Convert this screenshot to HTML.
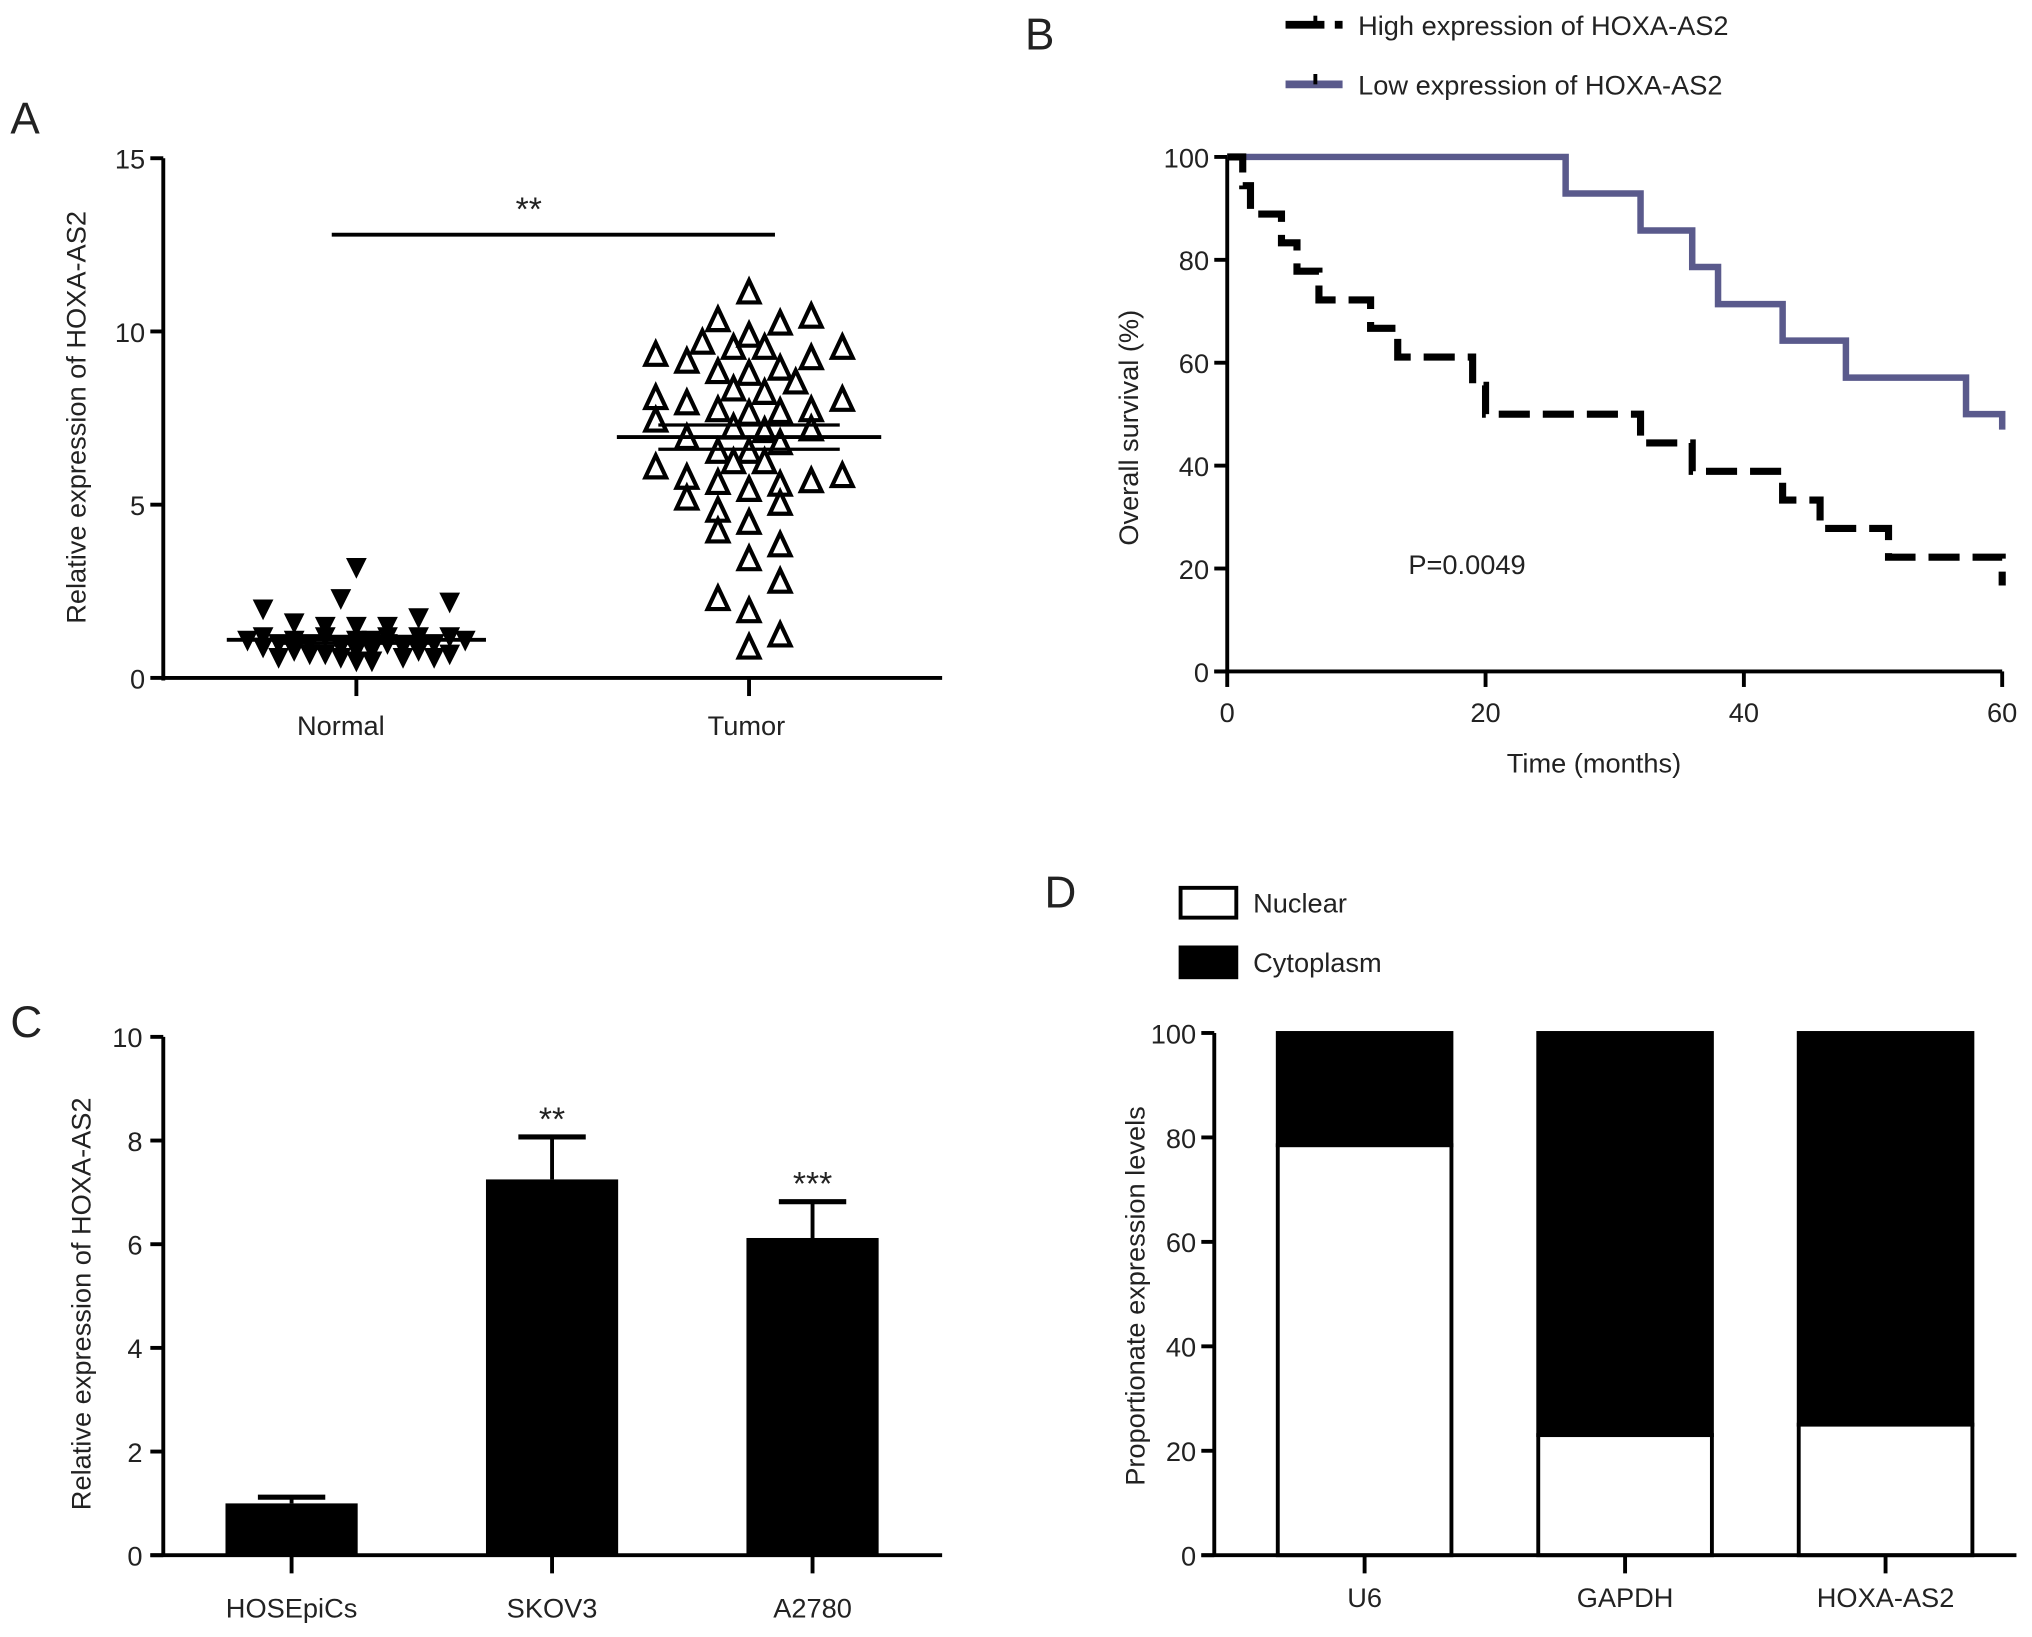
<!DOCTYPE html>
<html><head><meta charset="utf-8"><style>
html,body{margin:0;padding:0;background:#fff}
svg{display:block}
text{font-family:"Liberation Sans",Arial,sans-serif;fill:#222}
</style></head><body>
<svg id="fig" width="2032" height="1637" viewBox="0 0 1568 1263" xmlns="http://www.w3.org/2000/svg">
<g id="pA"></g>
<g id="pB"></g>
<g id="pC"></g>
<g id="pD"></g>
</svg>
<script>
// ---- Panel A data ----
const aGroups = ["Normal", "Tumor"];
const aYTicks = [0, 5, 10, 15];
const normalVals = [3.2,2.3,2.2,2.0,1.75,1.6,1.5,1.5,1.5,1.1,0.9,1.0,0.8,1.0,0.7,0.9,0.5,0.8,1.0,0.6,0.8,1.0,0.7,1.1,1.2,1.1,1.2,1.1,0.8,1.2,1.2,1.2,0.6,0.6,0.5,0.9,0.6,0.7,1.1];
const normalCol  = [0,-1,6,-6,4,-4,-2,0,2,-7,-6,-5,-4,-3,-2,-1,0,1,2,3,4,5,6,7,-6,-4,-2,0,0,2,4,6,-5,-1,1,3,5,-3,1];
const tumorVals = [11.1,10.3,10.2,10.4,9.65,9.5,9.85,9.5,9.3,9.1,9.2,9.5,8.8,8.75,8.9,8.5,8.3,8.2,8.05,7.9,8.0,7.7,7.6,7.65,7.7,7.4,7.15,7.2,7.1,6.9,6.75,6.5,6.5,6.2,6.2,6.05,5.75,5.6,5.55,5.65,5.8,5.4,5.15,5.0,4.8,4.45,4.2,3.8,3.4,2.75,2.25,1.9,1.2,0.85];
const tumorCol  = [0,-2,2,4,-3,-1,0,1,-6,-4,4,6,-2,0,2,3,-1,1,-6,-4,6,-2,0,2,4,-6,4,-1,1,-4,2,-2,0,-1,1,-6,-4,-2,2,4,6,0,-4,2,-2,0,-2,2,0,2,-2,0,2,0];
const aMeans = [1.1, 6.95];
const aSem = [0.1, 0.35];
// ---- Panel B data ----
const bXTicks = [0,20,40,60];
const bYTicks = [0,20,40,60,80,100];
const highT = [0,1.2,1.8,4.2,5.4,7.1,11.1,13.2,19,20,32,36,43,45.9,51.2,60];
const highS = [100,94.4,88.9,83.3,77.8,72.2,66.7,61.1,55.6,50,44.4,38.9,33.3,27.8,22.2,16.7];
const lowT = [0,26.2,32,36,38,43,47.9,57.2,60];
const lowS = [100,92.9,85.7,78.6,71.4,64.3,57.1,50,47];
// ---- Panel C data ----
const cCats = ["HOSEpiCs","SKOV3","A2780"];
const cVals = [1.0,7.25,6.12];
const cErr = [0.12,0.82,0.7];
const cSig = ["","**","***"];
const cYTicks = [0,2,4,6,8,10];
// ---- Panel D data ----
const dCats = ["U6","GAPDH","HOXA-AS2"];
const dNuclear = [78.5,23,25];
const dYTicks = [0,20,40,60,80,100];

const NS="http://www.w3.org/2000/svg";
function mk(parent, tag, attrs, txt){
  const e=document.createElementNS(NS,tag);
  for(const k in attrs) e.setAttribute(k,attrs[k]);
  if(txt!==undefined) e.textContent=txt;
  parent.appendChild(e); return e;
}

// ===== Panel A =====
(function(){
  const g=document.getElementById('pA');
  const x0=126,x1=727,yTop=122,yBot=523;
  const ys=v=>yBot-(v/15)*(yBot-yTop);
  const gx=[275,578];
  const lx=[263,576];
  const colW=12;
  let t=mk(g,'text',{x:8,y:103,'font-size':34});t.textContent='A';
  
  let ax=mk(g,'line',{x1:x0,y1:yTop,x2:x0,y2:yBot+2,stroke:'#000','stroke-width':3});
  
  ax=mk(g,'line',{x1:x0,y1:yBot,x2:x1,y2:yBot,stroke:'#000','stroke-width':3});
  
  aYTicks.forEach(v=>{
    mk(g,'line',{x1:x0-10,y1:ys(v),x2:x0,y2:ys(v),stroke:'#000','stroke-width':3});
    const tl=mk(g,'text',{x:x0-14,y:ys(v)+8,'font-size':21,'text-anchor':'end'},String(v));
    
  });
  aGroups.forEach((c,i)=>{
    mk(g,'line',{x1:gx[i],y1:yBot,x2:gx[i],y2:yBot+14,stroke:'#000','stroke-width':3});
    const tl=mk(g,'text',{x:lx[i],y:567,'font-size':21,'text-anchor':'middle'},c);
    
  });
  t=mk(g,'text',{x:0,y:0,'font-size':21,'text-anchor':'middle',transform:'translate(66,322) rotate(-90)'},'Relative expression of HOXA-AS2');
  
  mk(g,'line',{x1:256,y1:181,x2:598,y2:181,stroke:'#000','stroke-width':3});
  t=mk(g,'text',{x:408,y:170,'font-size':26,'text-anchor':'middle'},'**');
  
  normalVals.forEach((v,i)=>{
    const cx=gx[0]+normalCol[i]*colW, cy=ys(v);
    const p=mk(g,'path',{d:`M${cx-8},${cy-7} L${cx+8},${cy-7} L${cx},${cy+9} Z`,fill:'#000'});
    
  });
  tumorVals.forEach((v,i)=>{
    const cx=gx[1]+tumorCol[i]*colW, cy=ys(v);
    const p=mk(g,'path',{d:`M${cx},${cy-10} L${cx+8},${cy+7} L${cx-8},${cy+7} Z`,fill:'#fff',stroke:'#000','stroke-width':3.2,'stroke-linejoin':'miter'});
    
  });
  const mw=[100,102], sw=[60,70];
  aMeans.forEach((m,i)=>{
    const cx=gx[i];
    const ml=mk(g,'line',{x1:cx-mw[i],y1:ys(m),x2:cx+mw[i],y2:ys(m),stroke:'#000','stroke-width':3});
    
    mk(g,'line',{x1:cx-sw[i],y1:ys(m+aSem[i]),x2:cx+sw[i],y2:ys(m+aSem[i]),stroke:'#000','stroke-width':2.5});
    mk(g,'line',{x1:cx-sw[i],y1:ys(m-aSem[i]),x2:cx+sw[i],y2:ys(m-aSem[i]),stroke:'#000','stroke-width':2.5});
  });
})();

// ===== Panel B =====
(function(){
  const g=document.getElementById('pB');
  const x0=947,x1=1545,yTop=121,yBot=518;
  const xs=v=>x0+(v/60)*(x1-x0);
  const ys=v=>yBot-(v/100)*(yBot-yTop);
  let t=mk(g,'text',{x:791,y:38,'font-size':34});t.textContent='B';
  
  let ax=mk(g,'line',{x1:x0,y1:yTop,x2:x0,y2:yBot,stroke:'#000','stroke-width':3});
  
  ax=mk(g,'line',{x1:x0-10,y1:yBot,x2:x1,y2:yBot,stroke:'#000','stroke-width':3});
  
  bYTicks.forEach(v=>{
    mk(g,'line',{x1:x0-10,y1:ys(v),x2:x0,y2:ys(v),stroke:'#000','stroke-width':3});
    const tl=mk(g,'text',{x:x0-14,y:ys(v)+8,'font-size':21,'text-anchor':'end'},String(v));
    
  });
  bXTicks.forEach(v=>{
    mk(g,'line',{x1:xs(v),y1:yBot,x2:xs(v),y2:yBot+12,stroke:'#000','stroke-width':3});
    const tl=mk(g,'text',{x:xs(v),y:557,'font-size':21,'text-anchor':'middle'},String(v));
    
  });
  t=mk(g,'text',{x:1230,y:596,'font-size':21,'text-anchor':'middle'},'Time (months)');
  
  t=mk(g,'text',{x:0,y:0,'font-size':21,'text-anchor':'middle',transform:'translate(878,330) rotate(-90)'},'Overall survival (%)');
  
  t=mk(g,'text',{x:1132,y:443,'font-size':21,'text-anchor':'middle'},'P=0.0049');
  
  function stepPath(T,S){
    let d=`M${xs(T[0])},${ys(S[0])}`;
    for(let i=1;i<T.length;i++){d+=` L${xs(T[i])},${ys(S[i-1])} L${xs(T[i])},${ys(S[i])}`;}
    return d;
  }
  const lp=mk(g,'path',{d:stepPath(lowT,lowS),fill:'none',stroke:'#5a5a8c','stroke-width':5});
  
  const hp=mk(g,'path',{d:stepPath(highT,highS),fill:'none',stroke:'#000','stroke-width':5.5,'stroke-dasharray':'24 10'});
  
  let le=mk(g,'g',{});
  mk(le,'line',{x1:992,y1:19,x2:1022,y2:19,stroke:'#000','stroke-width':6});
  mk(le,'line',{x1:1015,y1:12,x2:1015,y2:19,stroke:'#000','stroke-width':3});
  mk(le,'line',{x1:1030,y1:19,x2:1036,y2:19,stroke:'#000','stroke-width':6});
  mk(le,'text',{x:1048,y:27,'font-size':21},'High expression of HOXA-AS2');
  le=mk(g,'g',{});
  mk(le,'line',{x1:992,y1:65,x2:1036,y2:65,stroke:'#5a5a8c','stroke-width':6});
  mk(le,'line',{x1:1015,y1:57,x2:1015,y2:65,stroke:'#000','stroke-width':3});
  mk(le,'text',{x:1048,y:73,'font-size':21},'Low expression of HOXA-AS2');
})();

// ===== Panel C =====
(function(){
  const g=document.getElementById('pC');
  const x0=126,x1=727,yTop=800,yBot=1200;
  const ys=v=>yBot-(v/10)*(yBot-yTop);
  const cx=[225,426,627], bw=102;
  let t=mk(g,'text',{x:8,y:800,'font-size':34});t.textContent='C';
  
  cCats.forEach((c,i)=>{
    const top=ys(cVals[i]+cErr[i]);
    mk(g,'line',{x1:cx[i],y1:ys(cVals[i]),x2:cx[i],y2:top,stroke:'#000','stroke-width':3});
    mk(g,'line',{x1:cx[i]-26,y1:top,x2:cx[i]+26,y2:top,stroke:'#000','stroke-width':4});
    const r=mk(g,'rect',{x:cx[i]-bw/2,y:ys(cVals[i]),width:bw,height:yBot-ys(cVals[i]),fill:'#000'});
    
    if(cSig[i]){const s=mk(g,'text',{x:cx[i],y:top-5,'font-size':26,'text-anchor':'middle'},cSig[i]);
      }
    mk(g,'line',{x1:cx[i],y1:yBot,x2:cx[i],y2:yBot+14,stroke:'#000','stroke-width':3});
    const tl=mk(g,'text',{x:cx[i],y:1248,'font-size':21,'text-anchor':'middle'},c);
    
  });
  let ax=mk(g,'line',{x1:x0,y1:yTop,x2:x0,y2:yBot,stroke:'#000','stroke-width':3});
  
  ax=mk(g,'line',{x1:x0-10,y1:yBot,x2:x1,y2:yBot,stroke:'#000','stroke-width':3});
  
  cYTicks.forEach(v=>{
    mk(g,'line',{x1:x0-10,y1:ys(v),x2:x0,y2:ys(v),stroke:'#000','stroke-width':3});
    const tl=mk(g,'text',{x:x0-16,y:ys(v)+8,'font-size':21,'text-anchor':'end'},String(v));
    
  });
  t=mk(g,'text',{x:0,y:0,'font-size':21,'text-anchor':'middle',transform:'translate(70,1006) rotate(-90)'},'Relative expression of HOXA-AS2');
  
})();

// ===== Panel D =====
(function(){
  const g=document.getElementById('pD');
  const x0=937,x1=1556,yTop=797,yBot=1200;
  const ys=v=>yBot-(v/100)*(yBot-yTop);
  const cx=[1053,1254,1455], bw=134;
  let t=mk(g,'text',{x:806,y:700,'font-size':34});t.textContent='D';
  
  let le=mk(g,'g',{});
  mk(le,'rect',{x:911,y:685,width:43,height:23,fill:'#fff',stroke:'#000','stroke-width':3});
  mk(le,'text',{x:967,y:704,'font-size':21},'Nuclear');
  le=mk(g,'g',{});
  mk(le,'rect',{x:911,y:731,width:43,height:23,fill:'#000',stroke:'#000','stroke-width':3});
  mk(le,'text',{x:967,y:750,'font-size':21},'Cytoplasm');
  dCats.forEach((c,i)=>{
    const l=cx[i]-bw/2;
    const r1=mk(g,'rect',{x:l,y:ys(100),width:bw,height:ys(dNuclear[i])-ys(100),fill:'#000',stroke:'#000','stroke-width':3});
    
    const r2=mk(g,'rect',{x:l,y:ys(dNuclear[i]),width:bw,height:yBot-ys(dNuclear[i]),fill:'#fff',stroke:'#000','stroke-width':3});
    
    mk(g,'line',{x1:cx[i],y1:yBot,x2:cx[i],y2:yBot+14,stroke:'#000','stroke-width':3});
    const tl=mk(g,'text',{x:cx[i],y:1240,'font-size':21,'text-anchor':'middle'},c);
    
  });
  let ax=mk(g,'line',{x1:x0,y1:yTop,x2:x0,y2:yBot,stroke:'#000','stroke-width':3});
  
  ax=mk(g,'line',{x1:x0-10,y1:yBot,x2:x1,y2:yBot,stroke:'#000','stroke-width':3});
  
  dYTicks.forEach(v=>{
    mk(g,'line',{x1:x0-10,y1:ys(v),x2:x0,y2:ys(v),stroke:'#000','stroke-width':3});
    const tl=mk(g,'text',{x:x0-14,y:ys(v)+8,'font-size':21,'text-anchor':'end'},String(v));
    
  });
  t=mk(g,'text',{x:0,y:0,'font-size':21,'text-anchor':'middle',transform:'translate(883,1000) rotate(-90)'},'Proportionate expression levels');
  
})();
</script>
</body></html>
